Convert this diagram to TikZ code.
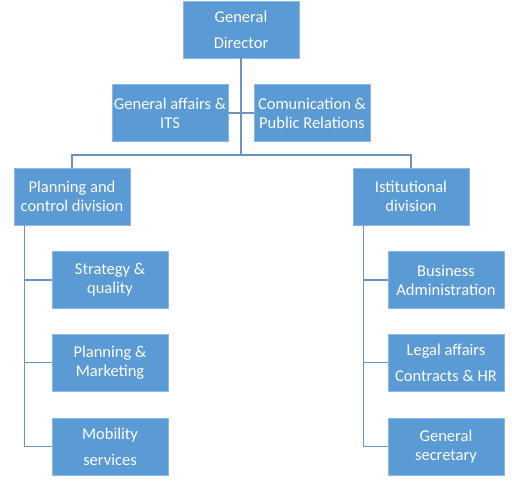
\documentclass[tikz,border=0pt]{standalone}
\usepackage{fontspec}
\setmainfont{Carlito}
\usetikzlibrary{calc}
\definecolor{boxblue}{HTML}{5B9BD5}
\definecolor{boxedge}{HTML}{8DB8E2}
\definecolor{linkblue}{HTML}{6E93BC}
\tikzset{
  unit/.style={rectangle, fill=boxblue, draw=boxedge, line width=0.8pt,
    minimum width=116pt, minimum height=57pt, inner sep=0pt,
    text=white, align=center, font=\fontsize{16.5}{18.8}\selectfont},
  wideunit/.style={unit, font=\fontsize{16.5}{26}\selectfont},
  link/.style={draw=linkblue, line width=1.3pt}
}
\begin{document}
\begin{tikzpicture}[x=1pt,y=-1pt]
\useasboundingbox (0,0) rectangle (512,480);
\node[wideunit] (gd) at (241,29.5) {General\\Director};
\node[unit] (ga) at (170,113) {General affairs \&\\ITS};
\node[unit] (cr) at (312,113) {Comunication \&\\Public Relations};
\node[unit] (pc) at (72,196.5) {Planning and\\control division};
\node[unit] (ist) at (411,196.5) {Istitutional\\division};
\node[unit] (s1) at (110,280) {Strategy \&\\quality};
\node[unit] (s2) at (110,362.5) {Planning \&\\Marketing};
\node[wideunit] (s3) at (110,446.5) {Mobility\\services};
\node[unit] (r1) at (446,280) {Business\\Administration};
\node[wideunit] (r2) at (446,362.5) {Legal affairs\\Contracts \& HR};
\node[unit] (r3) at (446,446.5) {General\\secretary};
\coordinate (j) at (241,155);
\draw[link] (gd.south) -- (j);
\draw[link] (ga.east) -- (cr.west);
\draw[link] (pc.north) |- (j) -| (ist.north);
\draw[link] ([xshift=11pt]pc.south west) |- (s1.west);
\draw[link] ([xshift=11pt]pc.south west) |- (s2.west);
\draw[link] ([xshift=11pt]pc.south west) |- (s3.west);
\draw[link] ([xshift=11pt]ist.south west) |- (r1.west);
\draw[link] ([xshift=11pt]ist.south west) |- (r2.west);
\draw[link] ([xshift=11pt]ist.south west) |- (r3.west);
\end{tikzpicture}
\end{document}
